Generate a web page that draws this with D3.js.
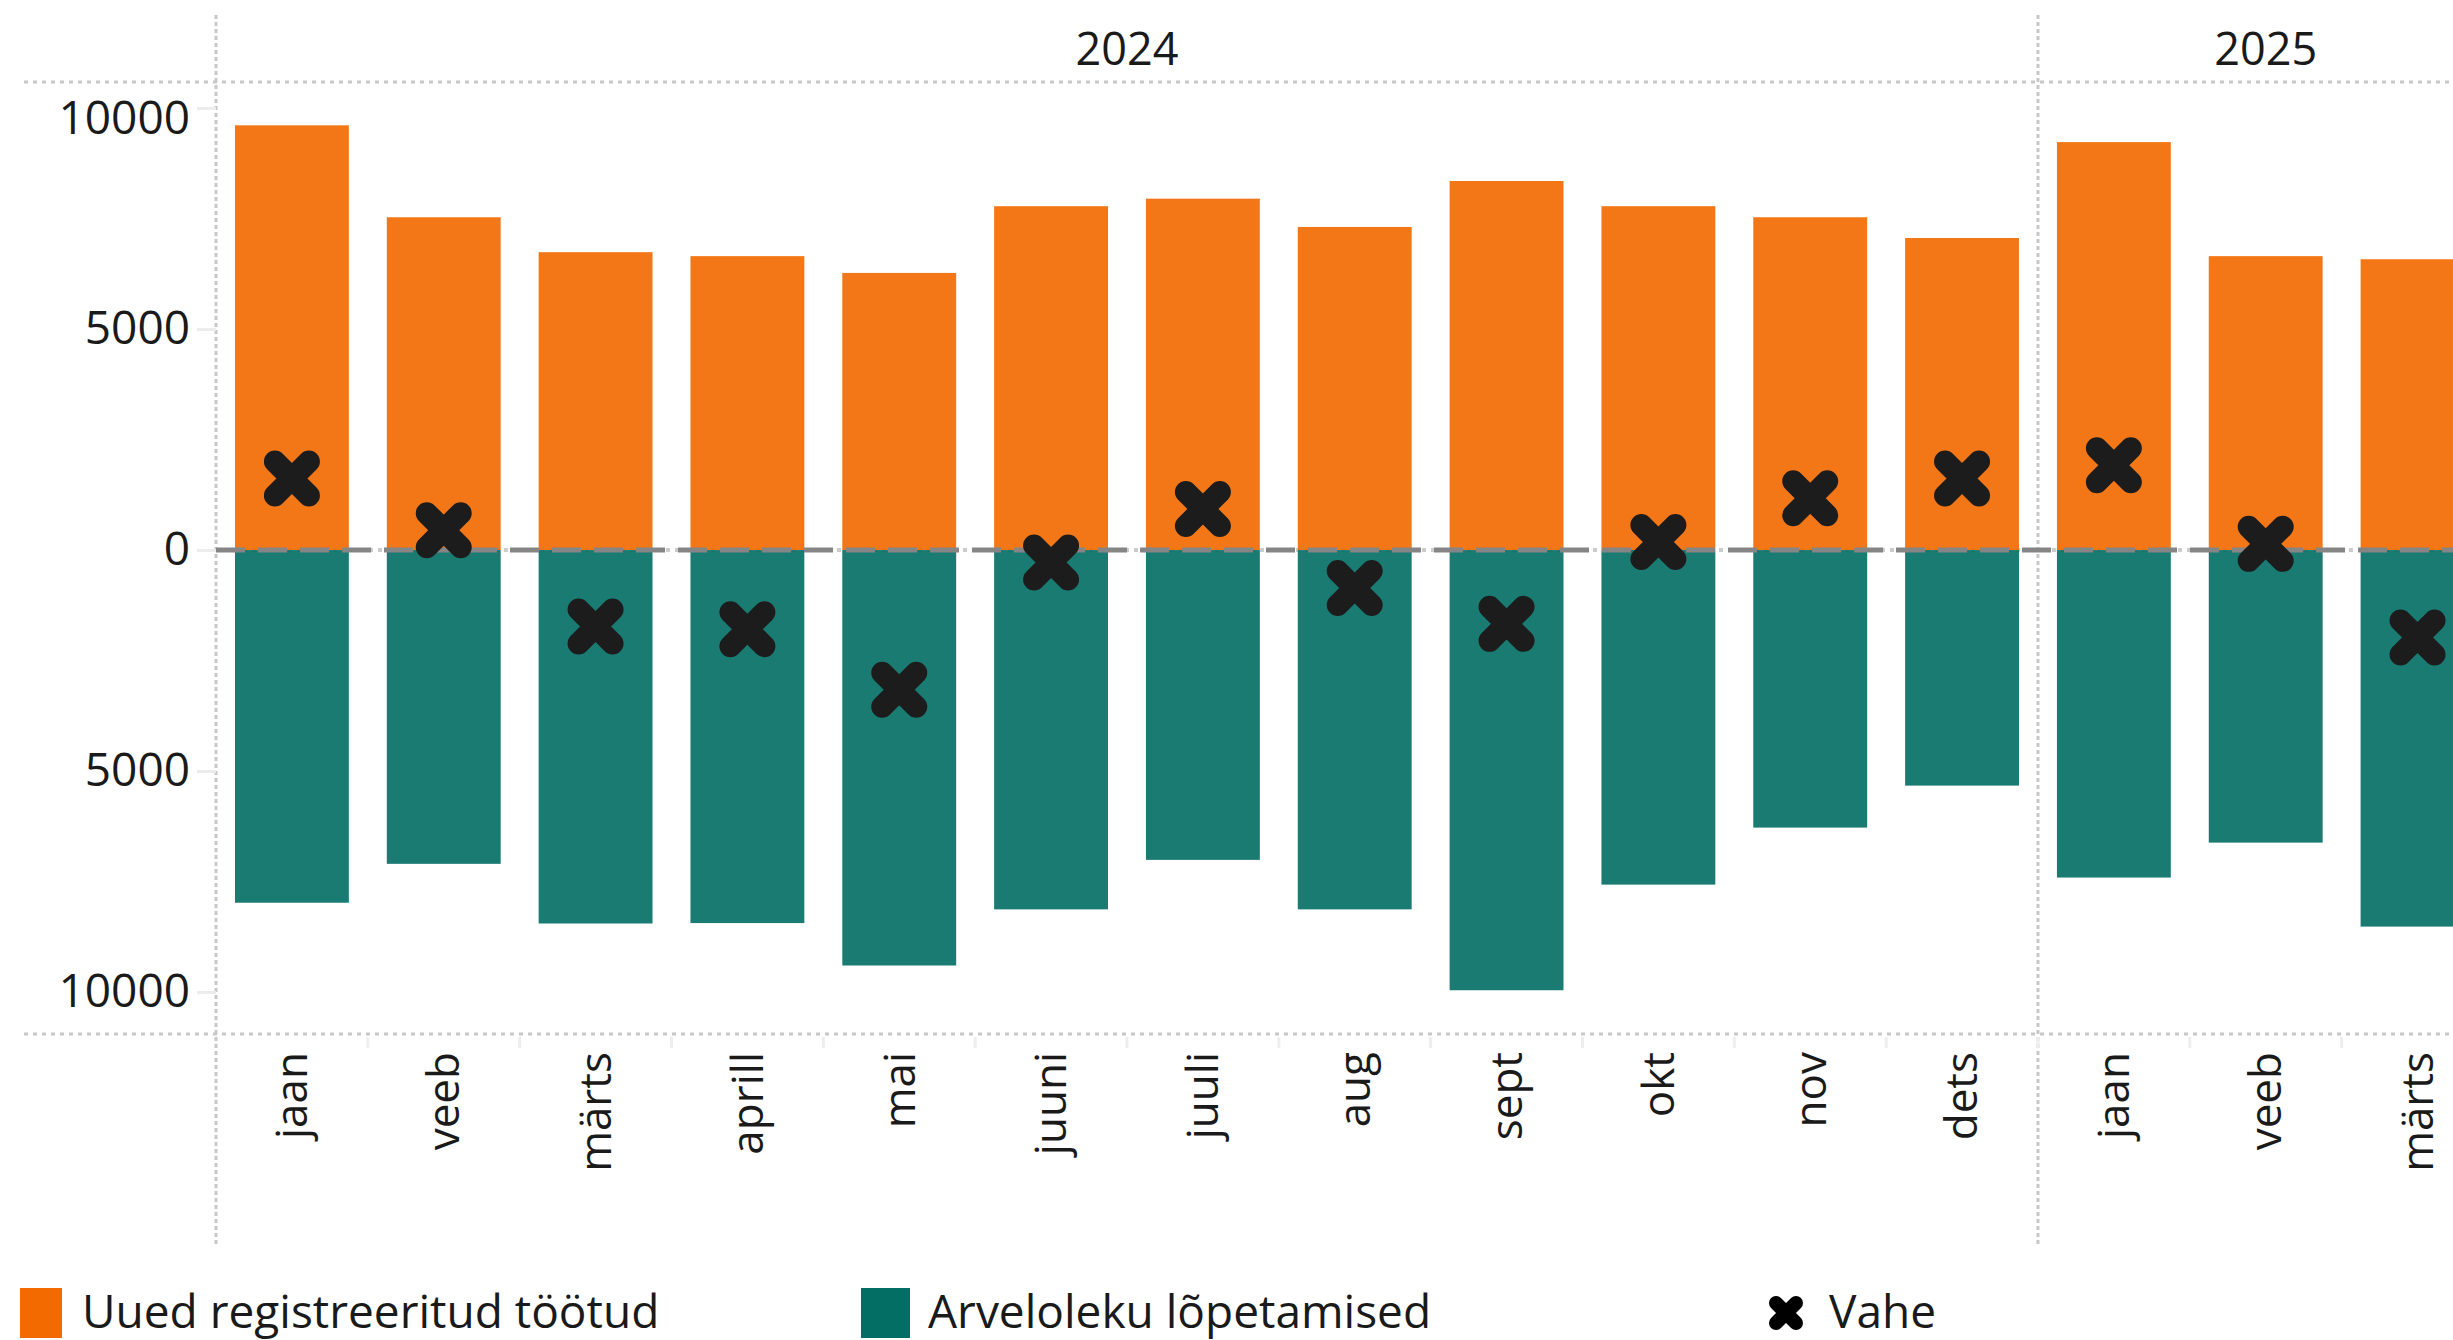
<!DOCTYPE html>
<html>
<head>
<meta charset="utf-8">
<script src="https://cdn.jsdelivr.net/npm/d3@7"></script>
<style>
  html, body { margin: 0; padding: 0; background: #fff; }
  text { font-family: "Open Sans", "Noto Sans", sans-serif; fill: #1a1a1a; }
</style>
</head>
<body>
<div id="chart"></div>
<script>
// months shown on the x axis (Jan 2024 - Mar 2025)
const months = ['jaan', 'veeb', 'märts', 'aprill', 'mai', 'juuni', 'juuli', 'aug', 'sept', 'okt', 'nov', 'dets', 'jaan', 'veeb', 'märts'];
const monthYears = [2024, 2024, 2024, 2024, 2024, 2024, 2024, 2024, 2024, 2024, 2024, 2024, 2025, 2025, 2025];
const years = [2024, 2025];

// series values
const newUnemployed = [9610, 7530, 6740, 6650, 6270, 7780, 7950, 7310, 8350, 7780, 7530, 7060, 9230, 6650, 6580];
const endedRegistrations = [7980, 7100, 8450, 8440, 9400, 8130, 7010, 8130, 9960, 7570, 6280, 5330, 7410, 6620, 8520];
const difference = [1620, 450, -1730, -1790, -3160, -280, 930, -860, -1670, 180, 1170, 1620, 1920, 140, -1980];

const yTicks = [10000, 5000, 0, -5000, -10000];
const legendLabels = ['Uued registreeritud töötud', 'Arveloleku lõpetamised', 'Vahe'];

const W = 2453, H = 1340;
const pane = { left: 216, top: 82, bottom: 1034 };
const step = 151.83;
const orange = '#f26a00', teal = '#036e64', markColor = '#1c1c1c';

const svg = d3.select('#chart')
  .append('svg')
  .attr('width', W)
  .attr('height', H)
  .style('display', 'block');

svg.append('rect').attr('width', W).attr('height', H).attr('fill', '#fff');

// scales
const keys = months.map((m, i) => i);
const x = d3.scaleBand()
  .domain(keys)
  .range([pane.left, pane.left + step * months.length])
  .paddingInner(0.25)
  .paddingOuter(0.125);

const y = d3.scaleLinear()
  .domain([-10950, 10590])
  .range([pane.bottom, pane.top]);

// header / frame lines
const grid = svg.append('g');
[pane.top, pane.bottom].forEach(yy => {
  grid.append('line')
    .attr('x1', 24).attr('x2', W)
    .attr('y1', yy).attr('y2', yy)
    .attr('stroke', '#c8c8c8')
    .attr('stroke-width', 3)
    .attr('stroke-dasharray', '4 5');
});

// year separators
const yearStart = yr => x(monthYears.indexOf(yr)) - x.step() * x.paddingOuter();
years.forEach(yr => {
  grid.append('line')
    .attr('x1', yearStart(yr)).attr('x2', yearStart(yr))
    .attr('y1', 15).attr('y2', 1245)
    .attr('stroke', '#c8c8c8')
    .attr('stroke-width', 3)
    .attr('stroke-dasharray', '4 3');
});

// year headers
years.forEach(yr => {
  const idx = keys.filter(i => monthYears[i] === yr);
  const x0 = yearStart(yr);
  const x1 = x0 + idx.length * x.step();
  svg.append('text')
    .attr('x', (x0 + x1) / 2)
    .attr('y', 65)
    .attr('text-anchor', 'middle')
    .style('font-size', '45px')
    .text(yr);
});

// light zero gridline under the bars
svg.append('line')
  .attr('x1', pane.left).attr('x2', W)
  .attr('y1', y(0)).attr('y2', y(0))
  .attr('stroke', '#cccccc')
  .attr('stroke-width', 4)
  .attr('stroke-dasharray', '4 5');

// bars
svg.append('g')
  .selectAll('rect')
  .data(keys)
  .enter()
  .append('rect')
  .attr('x', i => x(i))
  .attr('y', i => y(newUnemployed[i]))
  .attr('width', x.bandwidth())
  .attr('height', i => y(0) - y(newUnemployed[i]))
  .attr('fill', orange)
  .attr('fill-opacity', 0.91);

svg.append('g')
  .selectAll('rect')
  .data(keys)
  .enter()
  .append('rect')
  .attr('x', i => x(i))
  .attr('y', y(0))
  .attr('width', x.bandwidth())
  .attr('height', i => y(-endedRegistrations[i]) - y(0))
  .attr('fill', teal)
  .attr('fill-opacity', 0.91);

// dashed zero reference line
svg.append('line')
  .attr('x1', pane.left).attr('x2', W)
  .attr('y1', y(0)).attr('y2', y(0))
  .attr('stroke', '#858585')
  .attr('stroke-width', 5)
  .attr('stroke-dasharray', '29 13');

// difference markers (chunky x)
const xShape = d3.symbolX || d3.symbolCross;
const markR = 17;
const markSize = d3.symbolX ? Math.pow(markR / 0.6189, 2) + 1.7 : 1100;
const marker = d3.symbol().type(xShape).size(markSize);

svg.append('g')
  .selectAll('path')
  .data(keys)
  .enter()
  .append('path')
  .attr('d', marker)
  .attr('transform', i => `translate(${x(i) + x.bandwidth() / 2}, ${y(difference[i])})` + (d3.symbolX ? '' : ' rotate(45)'))
  .attr('fill', d3.symbolX ? 'none' : markColor)
  .attr('stroke', d3.symbolX ? markColor : 'none')
  .attr('stroke-width', 22)
  .attr('stroke-linecap', 'round');

// y axis
const yAxis = d3.axisLeft(y)
  .tickValues(yTicks)
  .tickSize(19)
  .tickPadding(7)
  .tickFormat(d => Math.abs(d));

const gy = svg.append('g')
  .attr('transform', `translate(${pane.left}, 0)`)
  .call(yAxis);
gy.select('.domain').remove();
gy.selectAll('.tick line').attr('stroke', '#ececec').attr('stroke-width', 3);
gy.selectAll('.tick text')
  .style('font-size', '46px')
  .attr('fill', '#1a1a1a')
  .attr('dy', d => d === d3.max(yTicks) ? '0.55em' : '0.32em');

// x axis (month labels, rotated)
const xAxis = d3.axisBottom(x)
  .tickSize(0)
  .tickFormat(i => months[i]);

const gx = svg.append('g')
  .attr('transform', `translate(0, ${pane.bottom})`)
  .call(xAxis);
gx.select('.domain').remove();
gx.selectAll('.tick text')
  .attr('transform', 'rotate(-90)')
  .attr('x', -18)
  .attr('y', 0)
  .attr('dy', '0.35em')
  .attr('text-anchor', 'end')
  .attr('fill', '#1a1a1a')
  .style('font-size', '44px');

// faint band separators below the axis line
svg.append('g')
  .selectAll('line')
  .data(keys.slice(1))
  .enter()
  .append('line')
  .attr('x1', i => x(i) - x.step() * x.paddingInner() / 2)
  .attr('x2', i => x(i) - x.step() * x.paddingInner() / 2)
  .attr('y1', pane.bottom + 3)
  .attr('y2', pane.bottom + 14)
  .attr('stroke', '#eeeeee')
  .attr('stroke-width', 3);

// legend
const legend = svg.append('g');
const legendX = [20, 861, 1768];
[orange, teal].forEach((c, i) => {
  legend.append('rect')
    .attr('x', legendX[i]).attr('y', 1288)
    .attr('width', i === 0 ? 42 : 49).attr('height', 50)
    .attr('fill', c);
});
legend.append('path')
  .attr('d', d3.symbol().type(xShape).size(d3.symbolX ? Math.pow(10 / 0.6189, 2) + 1.7 : 400))
  .attr('transform', `translate(${legendX[2] + 18}, 1313)` + (d3.symbolX ? '' : ' rotate(45)'))
  .attr('fill', d3.symbolX ? 'none' : '#000')
  .attr('stroke', d3.symbolX ? '#000' : 'none')
  .attr('stroke-width', 14)
  .attr('stroke-linecap', 'round');

const legendTextX = [82, 928, 1829];
legendLabels.forEach((t, i) => {
  legend.append('text')
    .attr('x', legendTextX[i])
    .attr('y', 1328)
    .style('font-size', '46px')
    .text(t);
});
</script>
</body>
</html>
